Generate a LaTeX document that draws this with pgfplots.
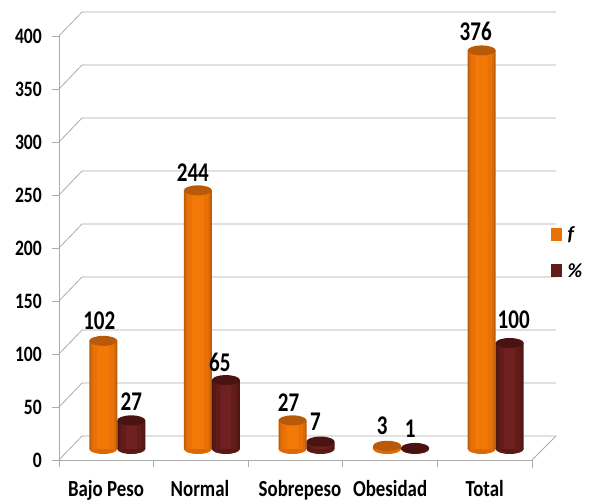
\documentclass[border=0pt]{standalone}
\usepackage{fontspec}
\usepackage{pgfplots}
\usepackage{pgfplotstable}
\pgfplotsset{compat=1.18}
\setmainfont{Carlito}
\newfontfamily\lab[FakeStretch=0.80]{Carlito}
\newfontfamily\labx[FakeStretch=0.82]{Carlito}
\newfontfamily\labv[FakeStretch=0.78]{Carlito}
\definecolor{gridg}{HTML}{ABABAB}
\definecolor{orA}{HTML}{BE5C06}
\definecolor{orB}{HTML}{DA6A07}
\definecolor{orC}{HTML}{E97208}
\definecolor{orD}{HTML}{F27808}
\definecolor{orT}{HTML}{B85A0A}
\definecolor{drA}{HTML}{4E1512}
\definecolor{drB}{HTML}{581917}
\definecolor{drC}{HTML}{621D1B}
\definecolor{drD}{HTML}{6E2120}
\definecolor{drT}{HTML}{481310}
\pgfdeclareplotmark{cylL}{\pgfpathellipse{\pgfqpoint{-14pt}{0pt}}{\pgfqpoint{14pt}{0pt}}{\pgfqpoint{0pt}{5pt}}\pgfusepathqfill}
\pgfdeclareplotmark{cylR}{\pgfpathellipse{\pgfqpoint{14pt}{0pt}}{\pgfqpoint{14pt}{0pt}}{\pgfqpoint{0pt}{5pt}}\pgfusepathqfill}
\pgfplotstableread{
x v dx dy
0 102 -18 20
1 244 -19 18
2 27 -18 18
3 3 -19 20
4 376 -20 19
}\tf
\pgfplotstableread{
x v dx dy
0 27 14 19
1 65 8 18
2 7 9 20
3 1 9 19
4 100 18 23
}\tp
\pgfplotsset{
 lbl/.style={
  visualization depends on={\thisrow{dx}\as\dx},
  visualization depends on={\thisrow{dy}\as\dy},
  nodes near coords,
  nodes near coords style={anchor=center,font=\labv\bfseries\fontsize{27}{28}\selectfont,black,/pgf/number format/assume math mode=true,xshift=\dx pt,yshift=\dy pt},
 },
 cyl/.style={
  at={(70pt,53pt)},anchor=south west,scale only axis,width=473pt,height=424pt,
  xmin=-0.5,xmax=4.5,ymin=0,ymax=400,clip=false,axis lines=none},
 strip/.style n args={3}{ybar,/pgf/bar width=#1pt,/pgf/bar shift=#2pt,draw=none,fill=#3,forget plot},
}
\begin{document}
\begin{tikzpicture}[x=1pt,y=1pt]
\useasboundingbox (0,0) rectangle (608,502);
% frame: walls, floor, ticks
\begin{axis}[
  at={(59pt,42pt)},anchor=south west,scale only axis,width=473pt,height=424pt,
  xmin=0,xmax=5,ymin=0,ymax=400,clip=false,
  axis lines=left,axis line style={-,gridg,line width=0.8pt},
  tick style={gridg,line width=0.8pt},tick align=outside,major tick length=7pt,
  xtick={0,1,2,3,4,5},xticklabels={},
  extra x ticks={0.497,1.49,2.547,3.5,4.5},
  extra x tick labels={Bajo Peso,Normal,Sobrepeso,Obesidad,Total},
  extra x tick style={major tick length=0pt,tick label style={yshift=-37pt,font=\labx\bfseries\fontsize{23}{24}\selectfont,anchor=base}},
  ytick={0,50,...,400},
  /pgf/number format/assume math mode=true,
  yticklabel style={font=\lab\bfseries\fontsize{22}{23}\selectfont,xshift=-9pt,inner sep=1pt},
]
\pgfplotsinvokeforeach{0,50,...,400}{
  \addplot[gridg,line width=0.8pt,forget plot] coordinates {(0,#1) (0.243,#1+22.6) (5.254,#1+22.6)};
}
\addplot[gridg,line width=0.8pt,forget plot] coordinates {(5,0) (5.254,22.6)};
\addplot[gridg,line width=0.8pt,forget plot] coordinates {(5,0) (5,-8)};
\end{axis}
% base ellipses
\begin{axis}[cyl]
\addplot[only marks,mark=cylL,mark options={fill=orB,draw=none},forget plot] table[x=x,y expr=0]{\tf};
\addplot[only marks,mark=cylR,mark options={fill=drB,draw=none},forget plot] table[x=x,y expr=0]{\tp};
\end{axis}
% cylinder bodies
\begin{axis}[cyl,
  legend style={at={(1.017,0.463)},anchor=west,draw=none,fill=none,row sep=17pt,
    font=\bfseries\itshape\fontsize{20}{20}\selectfont,inner sep=0pt},
  legend cell align=left,
]
\addplot[ybar,/pgf/bar width=28pt,/pgf/bar shift=-14pt,draw=none,fill=orA,
  legend image code/.code={\fill[orC] (0pt,-6.5pt) rectangle (11pt,6.5pt);}] table[x=x,y=v]{\tf};
\addlegendentry{\,f}
\addplot[ybar,/pgf/bar width=28pt,/pgf/bar shift=14pt,draw=none,fill=drA,
  legend image code/.code={\fill[drC] (0pt,-6.5pt) rectangle (11pt,6.5pt);}] table[x=x,y=v]{\tp};
\addlegendentry{\,\%}
\addplot[strip={25}{-14}{orB}] table[x=x,y=v]{\tf};
\addplot[strip={21}{-14}{orC}] table[x=x,y=v]{\tf};
\addplot[strip={12}{-14}{orD}] table[x=x,y=v]{\tf};
\addplot[strip={25}{14}{drB}] table[x=x,y=v]{\tp};
\addplot[strip={20}{14}{drC}] table[x=x,y=v]{\tp};
\addplot[strip={11}{14}{drD}] table[x=x,y=v]{\tp};
% top ellipses, value labels
\addplot[only marks,mark=cylL,mark options={fill=orT,draw=none},forget plot,lbl] table[x=x,y=v]{\tf};
\addplot[only marks,mark=cylR,mark options={fill=drT,draw=none},forget plot,lbl] table[x=x,y=v]{\tp};
\end{axis}
\end{tikzpicture}
\end{document}
